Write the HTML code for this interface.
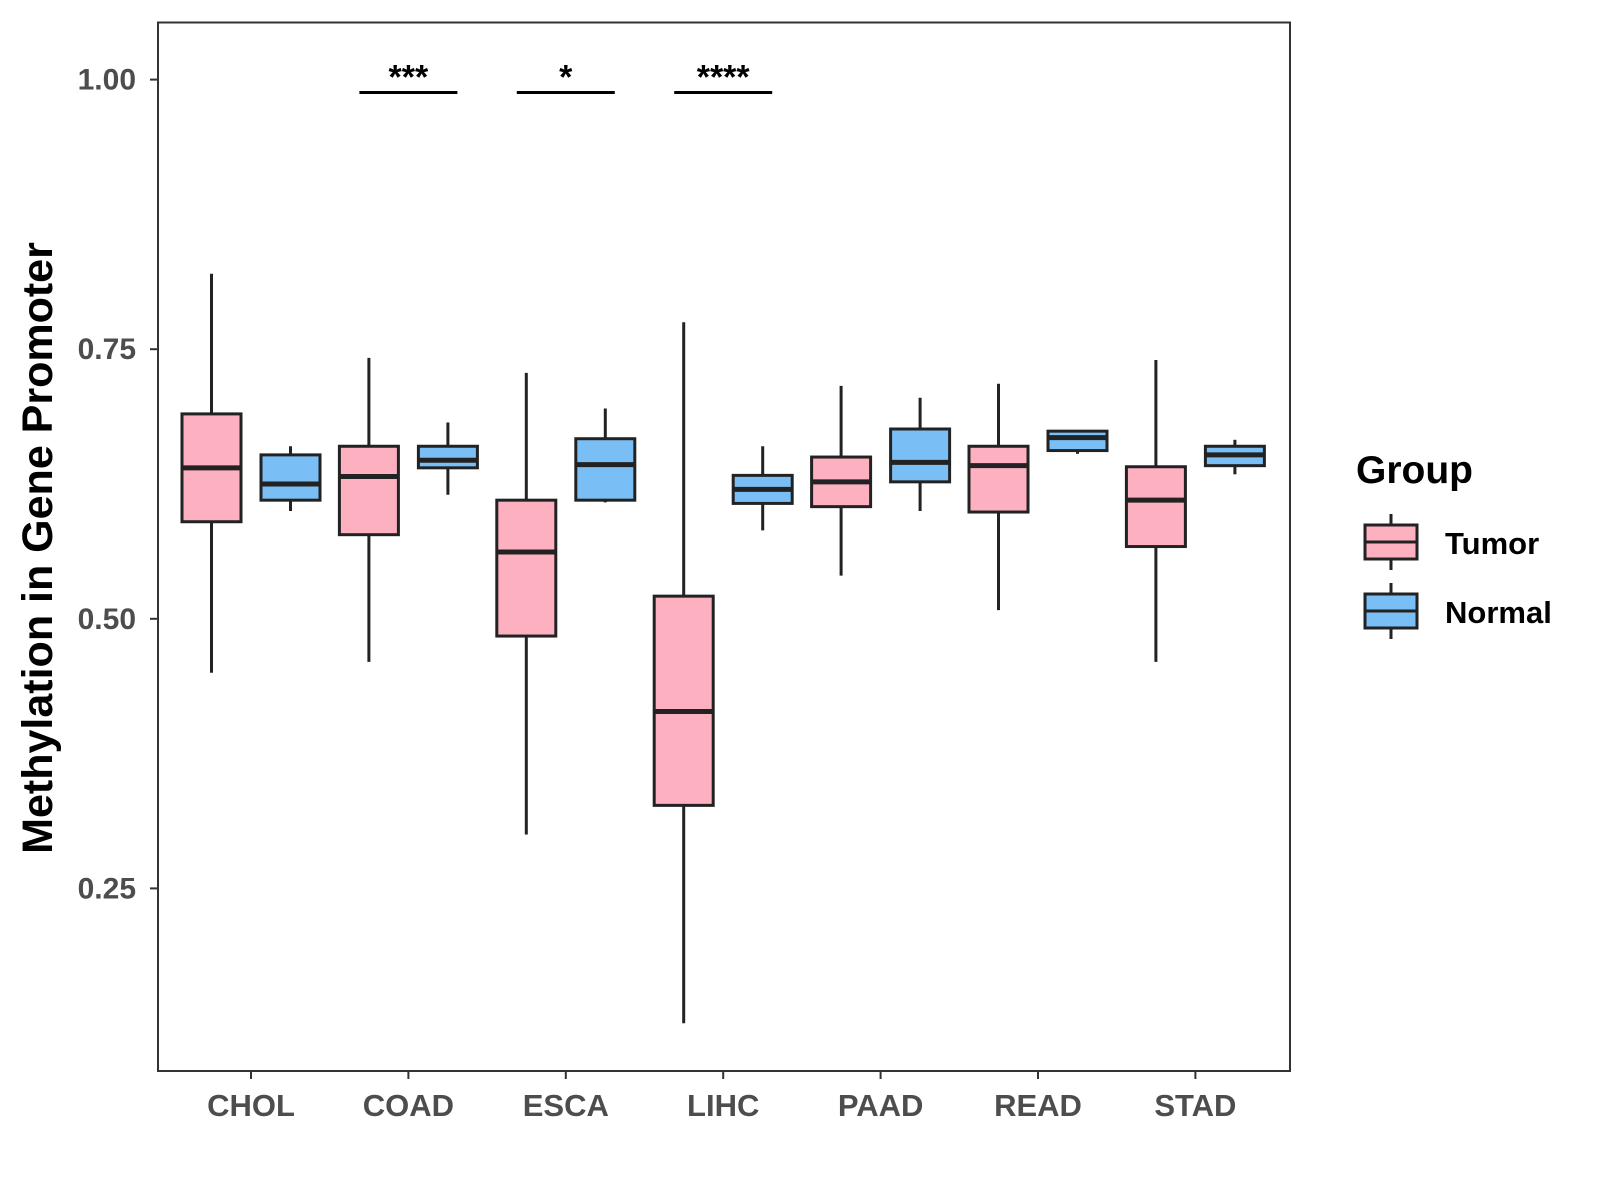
<!DOCTYPE html>
<html><head><meta charset="utf-8"><style>
body{margin:0;background:#fff;}
svg{display:block;font-family:"Liberation Sans",Arial,sans-serif;}
</style></head><body>
<svg id="chart" width="1600" height="1200" viewBox="0 0 1600 1200">
<rect x="0" y="0" width="1600" height="1200" fill="#fff"/>
<g id="plot"></g>
<rect x="158" y="22.5" width="1132" height="1048.5" fill="none" stroke="#333" stroke-width="2"/>
<text transform="translate(52,548) rotate(-90)" text-anchor="middle" font-size="43" font-weight="bold" fill="#000">Methylation in Gene Promoter</text>
<g>
<text x="1356" y="483" font-size="39" font-weight="bold" fill="#000">Group</text>
<g>
<line x1="1391" y1="514" x2="1391" y2="570" stroke="#222" stroke-width="3"/>
<rect x="1365" y="525" width="52" height="34" fill="#FDB0C0" stroke="#222" stroke-width="3"/>
<line x1="1365" y1="542" x2="1417" y2="542" stroke="#222" stroke-width="3"/>
<text x="1445" y="554" font-size="31" font-weight="bold" fill="#000">Tumor</text>
</g>
<g>
<line x1="1391" y1="583" x2="1391" y2="639" stroke="#222" stroke-width="3"/>
<rect x="1365" y="594" width="52" height="34" fill="#79BFF5" stroke="#222" stroke-width="3"/>
<line x1="1365" y1="611" x2="1417" y2="611" stroke="#222" stroke-width="3"/>
<text x="1445" y="623" font-size="31" font-weight="bold" fill="#000">Normal</text>
</g>
</g>
</svg>
<script>
const categories=["CHOL","COAD","ESCA","LIHC","PAAD","READ","STAD"];
const tumorLow=[0.45,0.46,0.30,0.125,0.54,0.508,0.46];
const tumorQ1=[0.59,0.578,0.484,0.327,0.604,0.599,0.567];
const tumorMed=[0.64,0.632,0.562,0.414,0.627,0.642,0.61];
const tumorQ3=[0.69,0.66,0.61,0.521,0.65,0.66,0.641];
const tumorHigh=[0.82,0.742,0.728,0.775,0.716,0.718,0.74];
const normalLow=[0.60,0.615,0.608,0.582,0.60,0.653,0.634];
const normalQ1=[0.61,0.64,0.61,0.607,0.627,0.656,0.642];
const normalMed=[0.625,0.647,0.643,0.62,0.645,0.668,0.652];
const normalQ3=[0.652,0.66,0.667,0.633,0.676,0.674,0.66];
const normalHigh=[0.66,0.682,0.695,0.66,0.705,0.675,0.666];
const yTicks=[0.25,0.5,0.75,1.0];
const yTickLabels=["0.25","0.50","0.75","1.00"];
const sigCats=["COAD","ESCA","LIHC"];
const sigLabels=["***","*","****"];
const sigLevel=0.988;

const NS="http://www.w3.org/2000/svg";
const g=document.getElementById('plot');
function y(v){return 888.4-(v-0.25)*1078.4;}
function x(i){return 251+i*157.4;}
function mk(t,a,p){const e=document.createElementNS(NS,t);for(const k in a)e.setAttribute(k,a[k]);(p||g).appendChild(e);return e;}

yTicks.forEach((v,i)=>{
  const t=mk('line',{x1:150,x2:158,y1:y(v),y2:y(v),stroke:'#333','stroke-width':2});
  
  
  const l=mk('text',{x:136,y:y(v)+10,'text-anchor':'end','font-size':30,'font-weight':'bold',fill:'#4d4d4d'});
  l.textContent=yTickLabels[i];
  
  
});
categories.forEach((c,i)=>{
  const t=mk('line',{x1:x(i),x2:x(i),y1:1071,y2:1079,stroke:'#333','stroke-width':2});
  
  
  const l=mk('text',{x:x(i),y:1116,'text-anchor':'middle','font-size':31,'font-weight':'bold',fill:'#4d4d4d'});
  l.textContent=c;
  
  
});
function box(cx,lo,q1,md,q3,hi,fill,name){
  const gr=mk('g',{});
  
  
  mk('line',{x1:cx,x2:cx,y1:y(hi),y2:y(lo),stroke:'#222','stroke-width':3},gr);
  mk('rect',{x:cx-29.5,y:y(q3),width:59,height:y(q1)-y(q3),fill:fill,stroke:'#222','stroke-width':3},gr);
  mk('line',{x1:cx-29.5,x2:cx+29.5,y1:y(md),y2:y(md),stroke:'#222','stroke-width':5},gr);
}
categories.forEach((c,i)=>{
  box(x(i)-39.5,tumorLow[i],tumorQ1[i],tumorMed[i],tumorQ3[i],tumorHigh[i],'#FDB0C0','box-tumor-'+c.toLowerCase());
  box(x(i)+39.5,normalLow[i],normalQ1[i],normalMed[i],normalQ3[i],normalHigh[i],'#79BFF5','box-normal-'+c.toLowerCase());
});
sigCats.forEach((c,k)=>{
  const i=categories.indexOf(c);
  const ln=mk('line',{x1:x(i)-49,x2:x(i)+49,y1:y(sigLevel),y2:y(sigLevel),stroke:'#000','stroke-width':3});
  
  
  const t=mk('text',{x:x(i),y:y(sigLevel)-4,'text-anchor':'middle','font-size':34,'font-weight':'bold',fill:'#000'});
  t.textContent=sigLabels[k];
  
  
});
</script>
</body></html>
